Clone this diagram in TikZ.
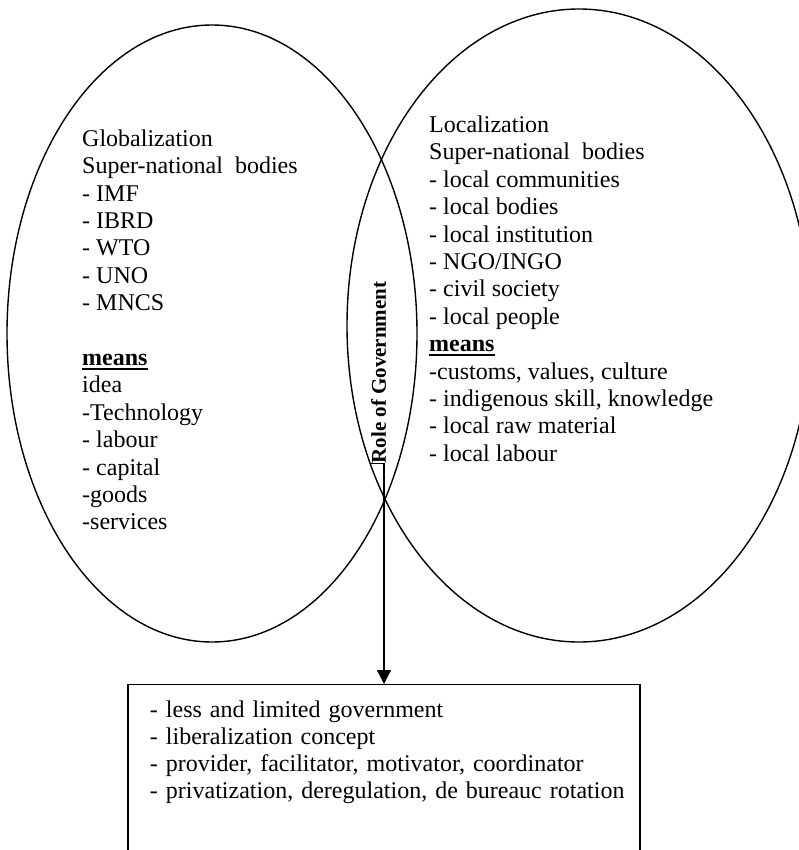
\documentclass[tikz,border=0pt]{standalone}
\usepackage{fontspec}
\setmainfont{Liberation Serif}
\usetikzlibrary{shapes.geometric,arrows.meta}
\newcommand\boldul[1]{\setbox0\hbox{\bfseries #1}\rlap{\rule[-4.5bp]{\wd0}{2.2bp}}\box0}
\begin{document}
\begin{tikzpicture}[x=1bp,y=-1bp,
  venn/.style={ellipse, draw, line width=1.4bp, inner sep=0pt, outer sep=0pt},
  listtext/.style={align=left, anchor=north west, inner sep=0pt, font=\fontsize{24bp}{27.4bp}\selectfont},
  rolelabel/.style={rotate=90, inner sep=0pt, font=\fontsize{21bp}{24bp}\selectfont\bfseries},
  govbox/.style={draw, line width=1.4bp, anchor=north, text width=468bp, align=left,
    inner xsep=22bp, inner ysep=16bp, font=\fontsize{24bp}{27bp}\selectfont},
  arr/.style={line width=1.4bp, -{Triangle[width=14bp,length=14bp]}}]
\useasboundingbox (0,0) rectangle (799,850);
\clip (0,0) rectangle (799,850);
\fill[white] (0,0) rectangle (799,850);
\node[venn, minimum width=410bp, minimum height=617bp] (glob) at (212,333.5) {};
\node[venn, minimum width=464bp, minimum height=633bp] (loc) at (579,325.5) {};
\node[listtext] (globtext) at (82,129.5) {Globalization\\
Super-national\ \ bodies\\
- IMF\\
- IBRD\\
- WTO\\
- UNO\\
- MNCS\\[27.4bp]
\boldul{means}\\
idea\\
-Technology\\
- labour\\
- capital\\
-goods\\
-services};
\node[listtext] (loctext) at (429,115.6) {Localization\\
Super-national\ \ bodies\\
- local communities\\
- local bodies\\
- local institution\\
- NGO/INGO\\
- civil society\\
- local people\\
\boldul{means}\\
-customs, values, culture\\
- indigenous skill, knowledge\\
- local raw material\\
- local labour};
\node[rolelabel] (role) at (378.5,372.5) {Role of Government};
\node[govbox] (box) at (384,684) {\mbox{- less and limited government}\\
\mbox{- liberalization concept}\\
\mbox{- provider, facilitator, motivator, coordinator}\\
\mbox{- privatization, deregulation, de bureauc rotation}\\[90bp]
\mbox{}};
\draw[arr] (role.north west) -| (box.north);
\end{tikzpicture}
\end{document}
